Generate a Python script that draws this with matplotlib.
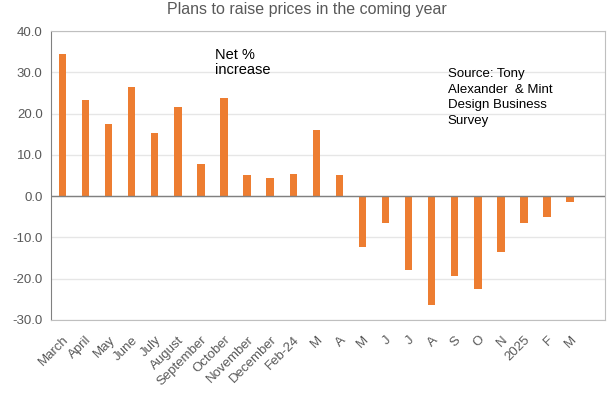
import matplotlib.pyplot as plt
import numpy as np

plt.rcParams['font.family'] = ['Liberation Sans', 'DejaVu Sans']

months = ['March', 'April', 'May', 'June', 'July', 'August', 'September',
          'October', 'November', 'December', 'Feb-24', 'M', 'A', 'M', 'J',
          'J', 'A', 'S', 'O', 'N', '2025', 'F', 'M']
net_pct = [34.4, 23.3, 17.4, 26.5, 15.4, 21.6, 7.9, 23.8, 5.1, 4.3, 5.3,
           16.0, 5.1, -12.3, -6.5, -17.9, -26.3, -19.4, -22.6, -13.6,
           -6.5, -5.0, -1.5]

fig = plt.figure(figsize=(6.14, 3.98), dpi=100)
ax = fig.add_axes([0.083, 0.196, 0.902, 0.726])

x = np.arange(len(months))
ax.bar(x, net_pct, width=0.32, color='#ED7D31', zorder=3)

ax.set_xlim(-0.5, len(months) + 0.5)
ax.set_ylim(-30, 40)
ax.set_yticks(np.arange(-30, 41, 10))
ax.set_yticklabels([f'{v:.1f}' for v in np.arange(-30, 41, 10)])
ax.set_xticks(x)
ax.set_xticklabels(months, rotation=45, ha='right', rotation_mode='anchor')
ax.tick_params(axis='both', length=0, labelsize=9.5, colors='#595959')
ax.tick_params(axis='x', pad=10)
ax.tick_params(axis='y', pad=6)

ax.grid(axis='y', color='#E6E6E6', linewidth=1, zorder=0)
ax.axhline(0, color='#808080', linewidth=1, zorder=4)

for side in ['top', 'right', 'bottom']:
    ax.spines[side].set_color('#BFBFBF')
ax.spines['left'].set_color('#808080')

fig.text(0.5, 0.975, 'Plans to raise prices in the coming year', ha='center',
         va='center', fontsize=11.5, color='#595959')

ax.text(6.6, 36.0, 'Net %\nincrease', fontsize=10.5, va='top', ha='left',
        linespacing=1.15)
ax.text(16.7, 31.0, 'Source: Tony\nAlexander  & Mint\nDesign Business\nSurvey',
        fontsize=9.5, va='top', ha='left', linespacing=1.4)

fig.savefig('out.png', dpi=100)
